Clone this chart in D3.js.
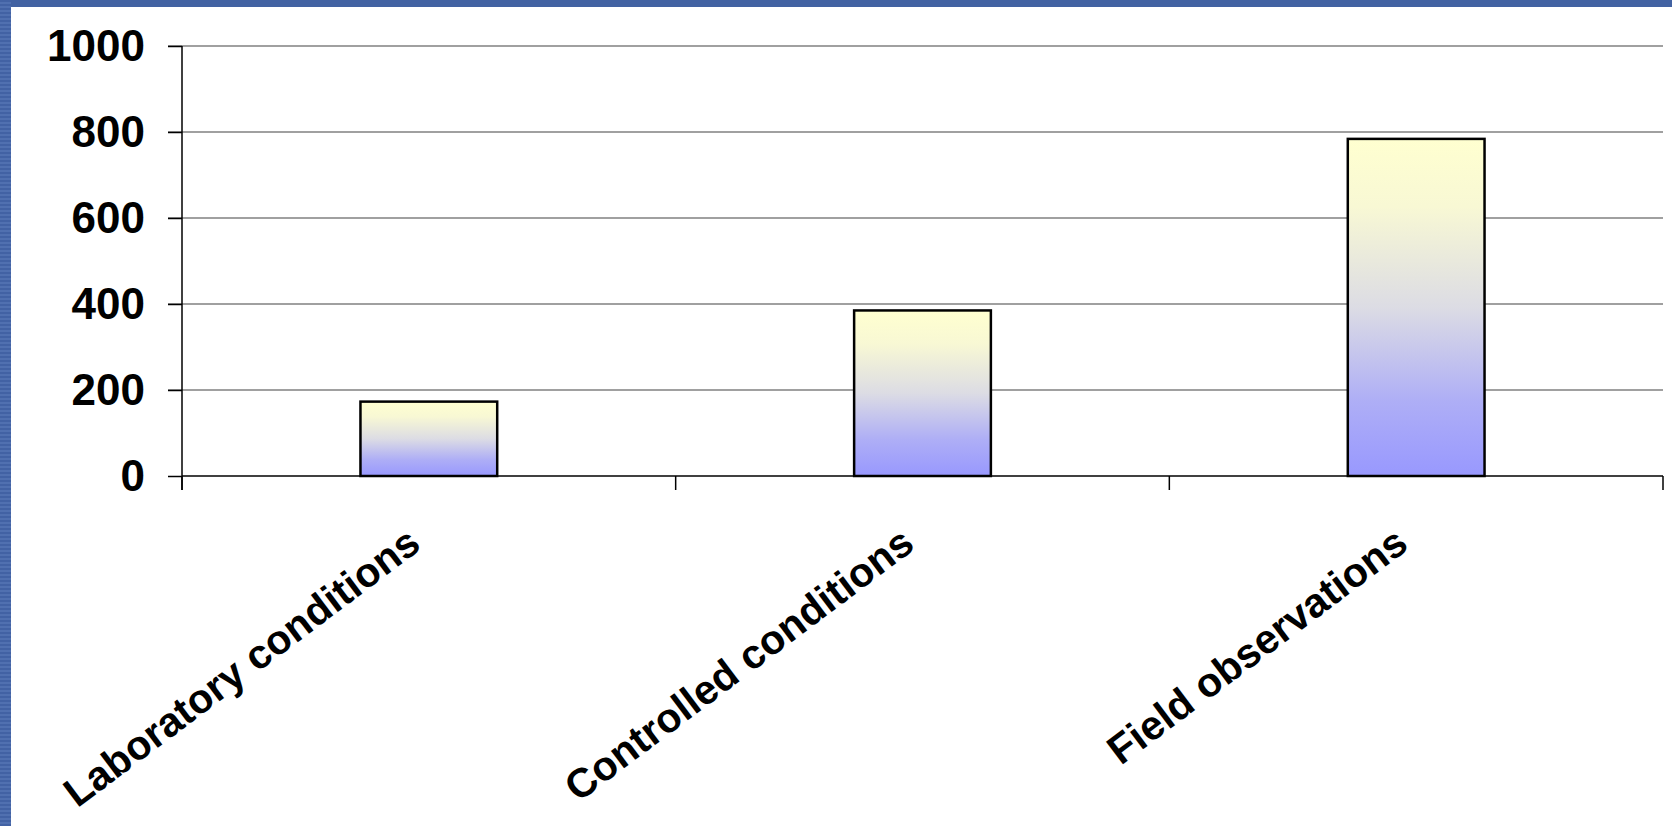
<!DOCTYPE html>
<html>
<head>
<meta charset="utf-8">
<script src="https://cdn.jsdelivr.net/npm/d3@7"></script>
<style>
  html, body { margin: 0; padding: 0; background: #fff; }
  svg { display: block; }
  text { font-family: "Liberation Sans", Arial, sans-serif; font-weight: bold; fill: #000; }
</style>
</head>
<body>
<div id="root"></div>
<script>
var config = {
  width: 1672,
  height: 826,
  left: 182,
  right: 1663,
  top: 46,
  bottom: 476
};

// chart data
const categories = ['Laboratory conditions', 'Controlled conditions', 'Field observations'];
const values = [173, 385, 784];
const yTicks = [0, 200, 400, 600, 800, 1000];

const chart = d3.select('#root')
  .append('svg:svg')
  .attr('width', config.width)
  .attr('height', config.height);

const defs = chart.append('defs');

// bar gradient, yellow on top to blue at the bottom
const grad = defs.append('linearGradient')
  .attr('id', 'barFill')
  .attr('x1', 0).attr('y1', 0).attr('x2', 0).attr('y2', 1);
grad.append('stop').attr('offset', '0%').attr('stop-color', '#ffffd0');
grad.append('stop').attr('offset', '20%').attr('stop-color', '#f8f8d4');
grad.append('stop').attr('offset', '50%').attr('stop-color', '#dcdce4');
grad.append('stop').attr('offset', '78%').attr('stop-color', '#aeaef6');
grad.append('stop').attr('offset', '100%').attr('stop-color', '#9898fe');

// striped blue frame on the left
const stripes = defs.append('pattern')
  .attr('id', 'stripes')
  .attr('width', 12).attr('height', 4)
  .attr('patternUnits', 'userSpaceOnUse');
stripes.append('rect').attr('width', 12).attr('height', 4).attr('fill', '#4262a4');
stripes.append('rect').attr('y', 2).attr('width', 12).attr('height', 2).attr('fill', '#5070b0');

chart.append('rect')
  .attr('x', 0).attr('y', 0)
  .attr('width', config.width).attr('height', 7)
  .attr('fill', '#4262a2');
chart.append('rect')
  .attr('x', 0).attr('y', 0)
  .attr('width', 11).attr('height', config.height)
  .attr('fill', 'url(#stripes)');

const x = d3.scaleBand()
  .domain(categories)
  .range([config.left, config.right])
  .paddingInner(0)
  .paddingOuter(0);

const y = d3.scaleLinear()
  .domain([0, 1000])
  .range([config.bottom, config.top]);

// gridlines
chart.append('g')
  .selectAll('line')
  .data(yTicks.filter(d => d > 0))
  .enter()
    .append('line')
    .attr('x1', config.left - 14)
    .attr('x2', config.right)
    .attr('y1', d => y(d))
    .attr('y2', d => y(d))
    .attr('stroke', '#808080')
    .attr('stroke-width', 1.6);

// y axis
const yAxis = chart.append('g')
  .attr('transform', `translate(${config.left},0)`)
  .call(d3.axisLeft(y).tickValues(yTicks).tickSize(14).tickPadding(23).tickFormat(d3.format('d')));
yAxis.select('.domain')
  .attr('d', `M0,${config.top}V${config.bottom + 14}`)
  .attr('stroke', '#000')
  .attr('stroke-width', 1.5);
yAxis.selectAll('.tick line').attr('stroke', '#000').attr('stroke-width', 1.5);
yAxis.selectAll('.tick text')
  .attr('font-size', 44)
  .attr('font-family', '"Liberation Sans", Arial, sans-serif')
  .attr('font-weight', 'bold')
  .attr('fill', '#000');

// bars
const barW = x.bandwidth() * 0.277;
chart.append('g')
  .selectAll('rect')
  .data(categories)
  .enter()
    .append('rect')
    .attr('x', d => x(d) + x.bandwidth() / 2 - barW / 2)
    .attr('y', (d, i) => y(values[i]))
    .attr('width', barW)
    .attr('height', (d, i) => y(0) - y(values[i]))
    .attr('fill', 'url(#barFill)')
    .attr('stroke', '#000')
    .attr('stroke-width', 2.5);

// x axis
const xAxis = chart.append('g')
  .attr('transform', `translate(0,${config.bottom})`);
xAxis.append('line')
  .attr('x1', config.left).attr('x2', config.right)
  .attr('stroke', '#000').attr('stroke-width', 1.5);
xAxis.selectAll('.xtick')
  .data(categories.map(c => x(c)).concat([config.right]))
  .enter()
    .append('line')
    .attr('x1', d => d).attr('x2', d => d)
    .attr('y1', 0).attr('y2', 14)
    .attr('stroke', '#000').attr('stroke-width', 1.5);

// rotated category labels
xAxis.selectAll('.xlabel')
  .data(categories)
  .enter()
    .append('text')
    .attr('text-anchor', 'end')
    .attr('font-size', 41)
    .attr('transform', d => `translate(${x(d) + x.bandwidth() / 2 - 6},${72}) rotate(-37)`)
    .text(d => d);
</script>
</body>
</html>
